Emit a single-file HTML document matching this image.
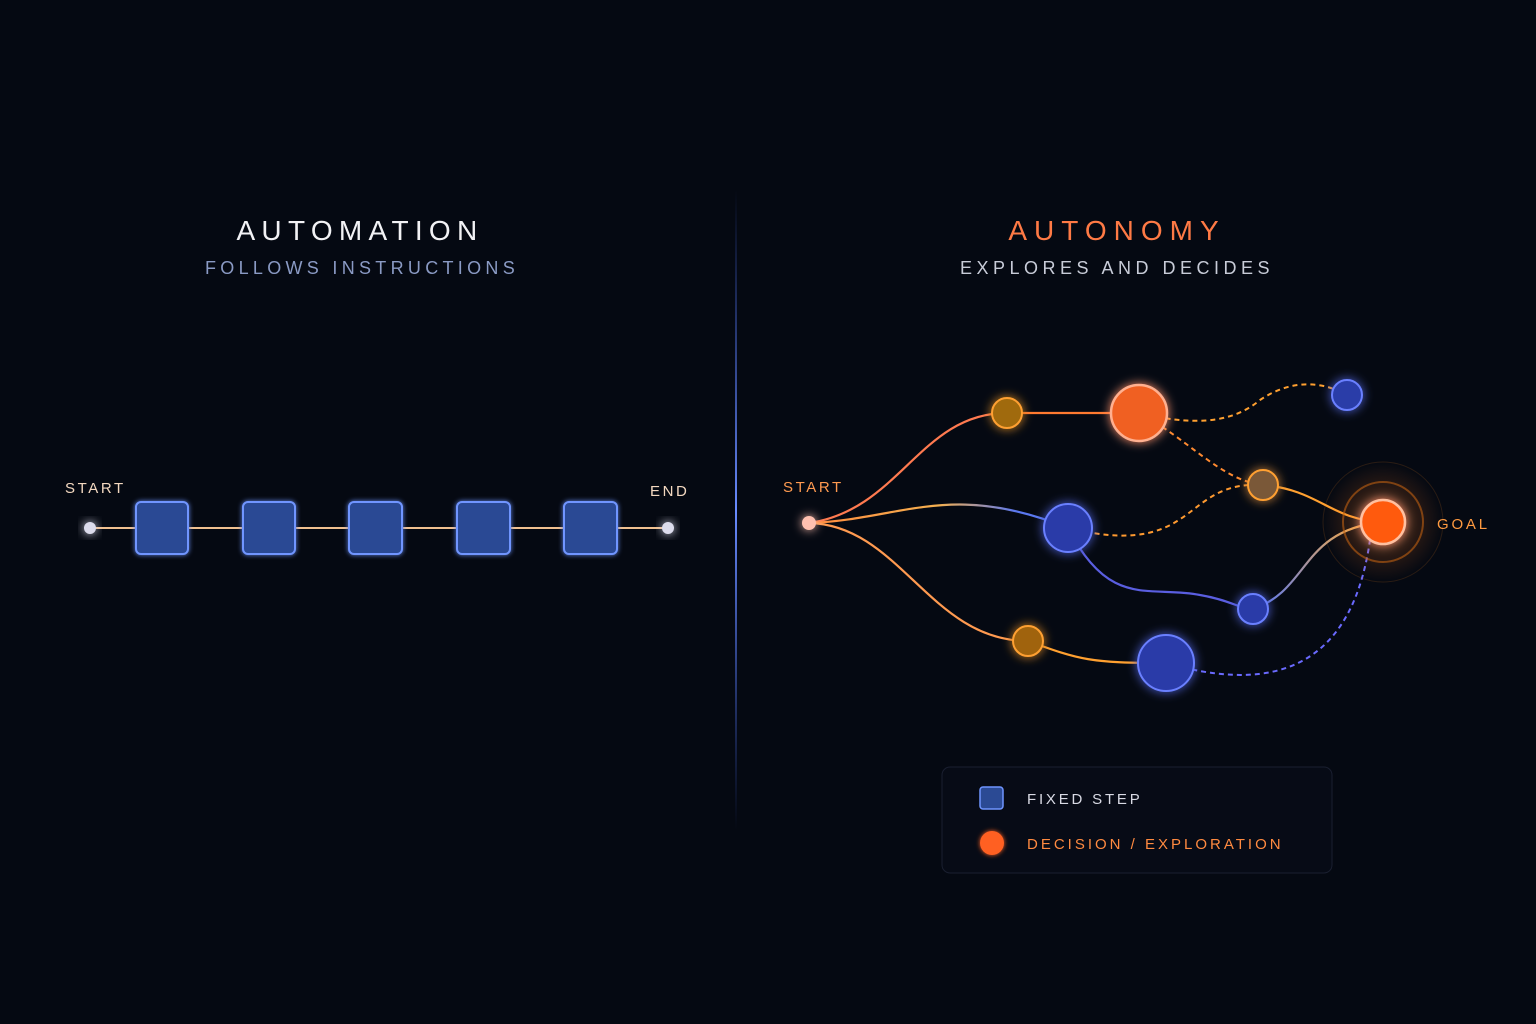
<!DOCTYPE html>
<html><head><meta charset="utf-8"><style>
html,body{margin:0;padding:0;background:#050912;width:1536px;height:1024px;overflow:hidden}
svg{display:block}
text{font-family:"Liberation Sans",sans-serif}
</style></head><body>
<svg width="1536" height="1024" viewBox="0 0 1536 1024">
<defs>
<filter id="g" x="-50%" y="-50%" width="200%" height="200%"><feGaussianBlur stdDeviation="5" result="b"/><feMerge><feMergeNode in="b"/><feMergeNode in="SourceGraphic"/></feMerge></filter>
<filter id="g2" x="-50%" y="-50%" width="200%" height="200%"><feGaussianBlur stdDeviation="2.5" result="b"/><feMerge><feMergeNode in="b"/><feMergeNode in="SourceGraphic"/></feMerge></filter>
<linearGradient id="div" x1="0" y1="0" x2="0" y2="1"><stop offset="0" stop-color="#3b5bd8" stop-opacity="0"/><stop offset="0.5" stop-color="#6a8cff"/><stop offset="1" stop-color="#3b5bd8" stop-opacity="0"/></linearGradient>
<linearGradient id="ob" x1="0" x2="1"><stop offset="0" stop-color="#ff8a3d"/><stop offset="0.5" stop-color="#f5b050"/><stop offset="0.8" stop-color="#5a78f0"/></linearGradient>
<linearGradient id="bo" x1="0" x2="1" y1="1" y2="0"><stop offset="0" stop-color="#5a78f0"/><stop offset="1" stop-color="#ffb040"/></linearGradient>
<radialGradient id="halo"><stop offset="0" stop-color="#ff7a20" stop-opacity="0.35"/><stop offset="1" stop-color="#ff7a20" stop-opacity="0"/></radialGradient>
</defs>
<rect width="1536" height="1024" fill="#050912"/>
<rect x="735" y="190" width="2" height="640" fill="url(#div)"/>

<text x="360" y="240" text-anchor="middle" fill="#f2f2f5" font-size="28" letter-spacing="6.3">AUTOMATION</text>
<text x="362" y="274" text-anchor="middle" fill="#8a9ac4" font-size="18" letter-spacing="4.3">FOLLOWS INSTRUCTIONS</text>
<text x="1117" y="240" text-anchor="middle" fill="#ff7a45" font-size="28" letter-spacing="7">AUTONOMY</text>
<text x="1117" y="274" text-anchor="middle" fill="#c8ccd8" font-size="18" letter-spacing="4.5">EXPLORES AND DECIDES</text>

<!-- left -->
<line x1="90" y1="528" x2="668" y2="528" stroke="#f0c090" stroke-width="2"/>
<text x="65" y="493" fill="#f3d8c0" font-size="15" letter-spacing="2.6">START</text>
<text x="650" y="496" fill="#f3d8c0" font-size="15" letter-spacing="2.6">END</text>
<circle cx="90" cy="528" r="6" fill="#dcdcec" filter="url(#g)"/>
<circle cx="668" cy="528" r="6" fill="#dcdcec" filter="url(#g)"/>
<g fill="#2b4a94" stroke="#6f95ff" stroke-width="2" filter="url(#g2)">
<rect x="136" y="502" width="52" height="52" rx="5"/>
<rect x="243" y="502" width="52" height="52" rx="5"/>
<rect x="349" y="502" width="53" height="52" rx="5"/>
<rect x="457" y="502" width="53" height="52" rx="5"/>
<rect x="564" y="502" width="53" height="52" rx="5"/>
</g>

<!-- right paths -->
<g fill="none" stroke-width="2.2">
<path d="M809 523 C900 510 920 413 1007 413" stroke="#ff7a50"/>
<path d="M1007 413 L1139 413" stroke="#ff7a30"/>
<path d="M809 523 C900 520 950 480 1068 528" stroke="url(#ob)"/>
<path d="M809 523 C900 525 930 641 1028 641" stroke="#ff9a50"/>
<path d="M1028 641 C1080 660 1090 663 1166 663" stroke="#ffa030"/>
<path d="M1068 528 C1110 610 1150 585 1200 595 C1230 600 1240 609 1253 609" stroke="#5a5ee0"/>
<path d="M1253 609 C1310 590 1300 530 1383 522" stroke="url(#bo)"/>
<path d="M1263 485 C1320 490 1330 520 1383 522" stroke="#ffa030"/>
</g>
<g fill="none" stroke-width="2" stroke-dasharray="5 4">
<path d="M1139 413 C1190 425 1230 425 1260 400 C1290 380 1320 380 1347 395" stroke="#ffa030"/>
<path d="M1139 413 C1190 440 1220 480 1263 485" stroke="#ff8a30"/>
<path d="M1068 528 C1200 560 1180 480 1263 485" stroke="#ff9a30"/>
<path d="M1166 663 C1260 690 1350 680 1370 540" stroke="#6a6aff"/>
</g>

<circle cx="1383" cy="522" r="60" fill="url(#halo)" stroke="#ff8a20" stroke-opacity="0.15"/>
<circle cx="1383" cy="522" r="40" fill="none" stroke="#c06010" stroke-opacity="0.6" stroke-width="2"/>
<g filter="url(#g)">
<circle cx="809" cy="523" r="7" fill="#ffc0b0"/>
<circle cx="1007" cy="413" r="15" fill="#a06a10" stroke="#ffa030" stroke-width="2"/>
<circle cx="1139" cy="413" r="28" fill="#f06020" stroke="#ffb090" stroke-width="2.5"/>
<circle cx="1347" cy="395" r="15" fill="#2a3ea8" stroke="#6a80ff" stroke-width="2"/>
<circle cx="1263" cy="485" r="15" fill="#7a5838" stroke="#ffa030" stroke-width="2"/>
<circle cx="1068" cy="528" r="24" fill="#2a3aa8" stroke="#6a80ff" stroke-width="2"/>
<circle cx="1383" cy="522" r="22" fill="#ff5a10" stroke="#ffc0a0" stroke-width="2.5"/>
<circle cx="1253" cy="609" r="15" fill="#2a3aa8" stroke="#6a80ff" stroke-width="2"/>
<circle cx="1028" cy="641" r="15" fill="#a06410" stroke="#ffa030" stroke-width="2"/>
<circle cx="1166" cy="663" r="28" fill="#2a3aa8" stroke="#6a80ff" stroke-width="2"/>
</g>
<text x="783" y="492" fill="#ff9a50" font-size="15" letter-spacing="2.6">START</text>
<text x="1437" y="529" fill="#ff9a40" font-size="15" letter-spacing="2.8">GOAL</text>

<!-- legend -->
<rect x="942" y="767" width="390" height="106" rx="8" fill="#070b16" stroke="#1a1f30"/>
<rect x="980" y="787" width="23" height="22" rx="3" fill="#2b4a94" stroke="#6f95ff" stroke-width="1.5"/>
<text x="1027" y="804" fill="#d8dae4" font-size="15" letter-spacing="2.8">FIXED STEP</text>
<circle cx="992" cy="843" r="12" fill="#ff6020" filter="url(#g2)"/>
<text x="1027" y="849" fill="#ff8a40" font-size="15" letter-spacing="3">DECISION / EXPLORATION</text>
</svg>
</body></html>
